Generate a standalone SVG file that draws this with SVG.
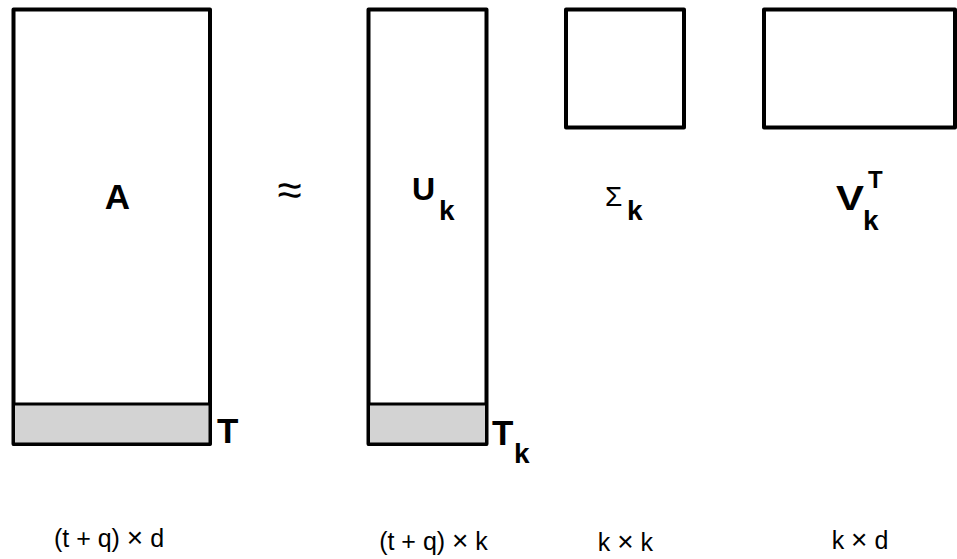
<svg xmlns="http://www.w3.org/2000/svg" width="957" height="559" viewBox="0 0 957 559">
<style>
.m{fill:#fff;stroke:#000;stroke-width:4;stroke-linejoin:round}
.b{fill:#d3d3d3;stroke:#000;stroke-width:3;stroke-linejoin:round}
.lb{font-family:"Liberation Sans",Arial,sans-serif;font-weight:bold;fill:#000}
.ln{font-family:"Liberation Sans",Arial,sans-serif;fill:#000}
</style>
<rect width="957" height="559" fill="#fff"/>
<g id="A">
<rect class="m" x="13.5" y="9.5" width="196.5" height="434.5"/>
<rect class="b" x="13.5" y="404" width="196.5" height="40"/>
<text class="lb" x="117.5" y="209" font-size="35" text-anchor="middle">A</text>
<text class="lb" x="217" y="443" font-size="35">T</text>
<text class="ln" x="109" y="547" font-size="25" text-anchor="middle">(t + q) <tspan font-size="28">×</tspan> d</text>
</g>
<g id="approx">
<text class="ln" x="289.5" y="205" font-size="44" text-anchor="middle">≈</text>
</g>
<g id="U">
<rect class="m" x="368.5" y="9.5" width="118" height="434.5"/>
<rect class="b" x="368.5" y="404" width="118" height="40"/>
<text class="lb" x="412" y="200" font-size="32">U</text>
<text class="lb" x="439" y="220" font-size="28">k</text>
<text class="lb" x="492" y="445" font-size="35">T</text>
<text class="lb" x="514" y="463" font-size="28">k</text>
<text class="ln" x="433.5" y="550" font-size="25" text-anchor="middle">(t + q) <tspan font-size="28">×</tspan> k</text>
</g>
<g id="Sigma">
<rect class="m" x="566" y="9.5" width="118" height="118"/>
<text class="ln" x="605" y="206" font-size="28">Σ</text>
<text class="lb" x="627" y="220" font-size="28">k</text>
<text class="ln" x="625.5" y="551" font-size="25" text-anchor="middle">k <tspan font-size="28">×</tspan> k</text>
</g>
<g id="V">
<rect class="m" x="764" y="9.5" width="191" height="118"/>
<text class="lb" x="836" y="210" font-size="35" textLength="28" lengthAdjust="spacingAndGlyphs">V</text>
<text class="lb" x="868" y="188" font-size="24">T</text>
<text class="lb" x="863" y="230" font-size="28">k</text>
<text class="ln" x="860" y="549" font-size="25" text-anchor="middle">k <tspan font-size="28">×</tspan> d</text>
</g>
<g id="connectors"/>
</svg>
